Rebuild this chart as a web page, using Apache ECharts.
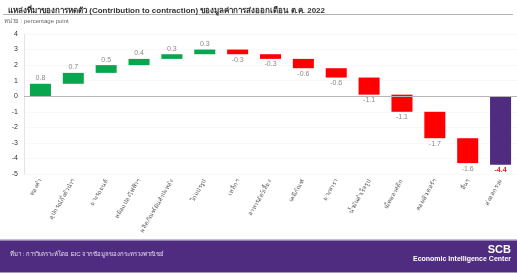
<!DOCTYPE html>
<html>
<head>
<meta charset="utf-8">
<script src="https://cdn.jsdelivr.net/npm/echarts@6/dist/echarts.min.js"></script>
<style>
	html, body { margin: 0; padding: 0; background: #fff; }
	#chart { width: 517px; height: 275px; }
</style>
</head>
<body>
<div id="chart"></div>
<script>
// categories, left to right
const categories = [
	"ทองคำ",
	"อุปกรณ์กึ่งตัวนำฯ",
	"ยางรถยนต์",
	"หม้อแปลงไฟฟ้าฯ",
	"ผลิตภัณฑ์มันสำปะหลัง",
	"ไก่แปรรูป",
	"เหล็กฯ",
	"อาหารสัตว์เลี้ยง",
	"เคมีภัณฑ์",
	"ยางพารา",
	"น้ำมันสำเร็จรูป",
	"เม็ดพลาสติก",
	"คอมพิวเตอร์ฯ",
	"อื่นๆ",
	"ส่งออกรวม",
];
// contribution of each item (percentage point)
const contributions = [0.8, 0.7, 0.5, 0.4, 0.3, 0.3, -0.3, -0.3, -0.6, -0.6, -1.1, -1.1, -1.7, -1.6];
// total export growth
const totalValue = -4.4;
const yTicks = [4, 3, 2, 1, 0, -1, -2, -3, -4, -5];

const GREEN = "#0aa64f";
const RED = "#ff0000";
const PURPLE = "#4f2c80";

// waterfall: transparent base + visible height, stacked with "all" strategy
const base = [];
const height = [];
const labels = [];
let running = 0;
contributions.forEach((v) => {
	const start = running;
	running = +(running + v).toFixed(2);
	base.push(Math.min(start, running));
	height.push({
		value: Math.abs(v),
		itemStyle: { color: v >= 0 ? GREEN : RED },
		label: {
			position: v >= 0 ? "top" : "bottom",
			formatter: String(v),
		},
	});
});
base.push(0);
height.push({
	value: totalValue,
	itemStyle: { color: PURPLE },
	label: {
		position: "bottom",
		formatter: String(totalValue),
		color: "#e0201f",
		fontWeight: "bold",
	},
});

const chart = echarts.init(document.getElementById("chart"));
chart.setOption({
	animation: false,
	textStyle: { fontFamily: "sans-serif" },
	title: {
		text: "แหล่งที่มาของการหดตัว (Contribution to contraction) ของมูลค่าการส่งออกเดือน ต.ค. 2022",
		left: 3,
		top: 2,
		textStyle: { fontSize: 8, fontWeight: "bold", color: "#333" },
	},
	graphic: [
		{
			type: "rect",
			shape: { x: 3, y: 14, width: 510, height: 0.8 },
			style: { fill: "#9a9a9a" },
		},
		{
			type: "text",
			left: 4,
			top: 18,
			style: { text: "หน่วย : percentage point", fontSize: 6, fill: "#666" },
		},
		{
			type: "rect",
			shape: { x: 0, y: 239, width: 517, height: 1.5 },
			style: { fill: "#c9b8e0" },
		},
		{
			type: "rect",
			shape: { x: 0, y: 240.5, width: 517, height: 32 },
			style: { fill: PURPLE },
		},
		{
			type: "text",
			left: 10,
			top: 251,
			style: {
				text: "ที่มา : การวิเคราะห์โดย EIC จากข้อมูลของกระทรวงพาณิชย์",
				fontSize: 6,
				fill: "#e6ddf2",
			},
		},
		{
			type: "text",
			right: 6,
			top: 244,
			style: { text: "SCB", fontSize: 11, fontWeight: "bold", fill: "#fff" },
		},
		{
			type: "text",
			right: 6,
			top: 256,
			style: {
				text: "Economic Intelligence Center",
				fontSize: 7,
				fontWeight: "bold",
				fill: "#fff",
			},
		},
	],
	grid: {
		left: 24,
		right: 0,
		top: 34,
		bottom: 101,
	},
	xAxis: {
		type: "category",
		data: categories,
		axisLine: { show: false },
		axisTick: { show: false },
		axisLabel: {
			interval: 0,
			rotate: 60,
			fontSize: 6,
			color: "#555",
			margin: 6,
		},
	},
	yAxis: {
		type: "value",
		min: -5,
		max: 4,
		interval: 1,
		axisLine: { show: true, lineStyle: { color: "#e4e4e4" } },
		axisTick: { show: false },
		axisLabel: { fontSize: 7, color: "#333", margin: 6 },
		splitLine: {
			show: true,
			lineStyle: { color: "#f3f3f3", width: 0.6 },
		},
	},
	series: [
		{
			type: "bar",
			stack: "wf",
			stackStrategy: "all",
			data: base,
			itemStyle: { color: "transparent" },
			emphasis: { disabled: true },
			silent: true,
		},
		{
			type: "bar",
			stack: "wf",
			stackStrategy: "all",
			barWidth: "64%",
			data: height,
			label: {
				show: true,
				fontSize: 7,
				color: "#8a8a8a",
				distance: 2,
			},
			markLine: {
				silent: true,
				symbol: "none",
				label: { show: false },
				lineStyle: { color: "#b5b5b5", width: 1.2, type: "solid" },
				data: [{ yAxis: 0 }],
			},
		},
	],
});
</script>
</body>
</html>
